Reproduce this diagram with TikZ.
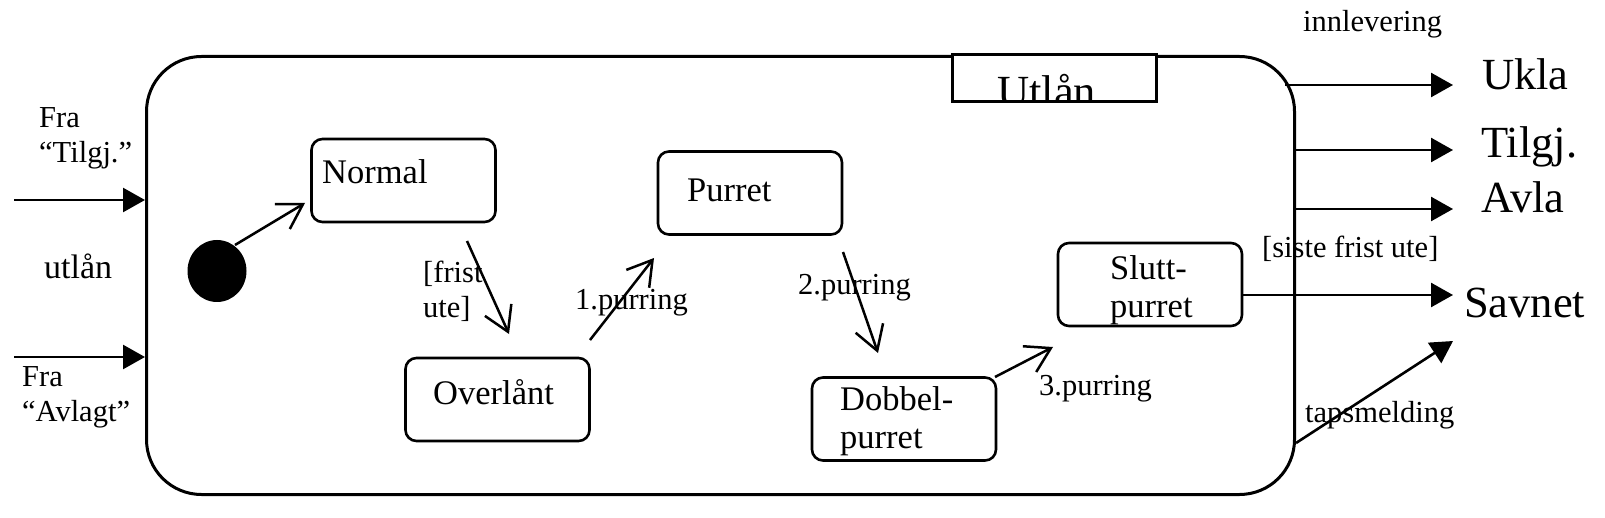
\documentclass[tikz,border=0pt]{standalone}
\usepackage{fontspec}
\setmainfont{Liberation Serif}
\usetikzlibrary{arrows.meta,shapes.geometric}
\tikzset{
  stbox/.style={draw, line width=2.6pt, rounded corners=11pt, minimum width=184pt, minimum height=83pt, inner sep=0pt},
  lbl/.style={anchor=base west, inner sep=0pt, font=\fontsize{30.5pt}{36pt}\selectfont},
  boxtxt/.style={anchor=base west, inner sep=0pt, font=\fontsize{34.5pt}{40pt}\selectfont},
  bigtxt/.style={anchor=base west, inner sep=0pt, font=\fontsize{44.5pt}{50pt}\selectfont},
  openarr/.style={line width=2.5pt, -{Straight Barb[length=24pt,width=29pt,line width=2.5pt]}},
  fillarr/.style={line width=2.6pt, -{Triangle[length=22pt,width=24pt]}}
}
\begin{document}
\begin{tikzpicture}[x=1pt,y=-1pt]
\useasboundingbox (0,0) rectangle (1605,518);
% composite state
\node[draw, line width=3pt, rounded corners=55pt, minimum width=1148pt, minimum height=438pt, inner sep=0pt] (utlaan) at (720.5,275.5) {};
\node[draw, fill=white, line width=3pt, minimum width=204pt, minimum height=47pt, inner sep=0pt] (tab) at (1054.5,78) {};
\begin{scope}
  \clip (951,53) rectangle (1158,101.5);
  \node[bigtxt] (utlantxt) at (997,107) {Utlån};
\end{scope}
% inner states
\node[stbox] (normal) at (403.5,180.5) {};
\node[stbox] (purret) at (750,193) {};
\node[stbox] (overl) at (497.5,399.5) {};
\node[stbox] (dobbel) at (904,419) {};
\node[stbox] (slutt) at (1150,284.5) {};
\node[boxtxt] (tnormal) at (322,184) {Normal};
\node[boxtxt] (tpurret) at (687,202) {Purret};
\node[boxtxt] (toverl) at (433,404) {Overlånt};
\node[boxtxt] (tdob1) at (840,410) {Dobbel-};
\node[boxtxt] (tdob2) at (840,448) {purret};
\node[boxtxt] (tslu1) at (1110,280) {Slutt-};
\node[boxtxt] (tslu2) at (1110,318) {purret};
% initial state
\node[ellipse, fill=black, minimum width=59pt, minimum height=62pt, inner sep=0pt] (init) at (217,271) {};
% inner transitions
\coordinate (i0) at (235,245); \coordinate (i1) at (305,203);
\coordinate (a0) at (467,241); \coordinate (a1) at (509,334);
\coordinate (b0) at (590,340); \coordinate (b1) at (654,258);
\coordinate (c0) at (843,252); \coordinate (c1) at (878,353);
\coordinate (d0) at (995,377); \coordinate (d1) at (1053,347);
\draw[openarr] (i0) -- (i1);
\draw[openarr] (a0) -- (a1);
\draw[openarr] (b0) -- (b1);
\draw[openarr] (c0) -- (c1);
\draw[openarr] (d0) -- (d1);
\node[lbl] (lfrist1) at (423,283) {[frist};
\node[lbl] (lfrist2) at (423,318) {ute]};
\node[lbl] (lp1) at (575,309) {1.purring};
\node[lbl] (lp2) at (798,295) {2.purring};
\node[lbl] (lp3) at (1039,395) {3.purring};
% incoming
\coordinate (in1) at (14,200); \coordinate (in2) at (14,357);
\draw[fillarr] (in1) -- (in1 -| utlaan.west);
\draw[fillarr] (in2) -- (in2 -| utlaan.west);
\node[lbl] (fra1) at (39,128) {Fra};
\node[lbl] (fra1b) at (39,163) {“Tilgj.”};
\node[lbl, font=\fontsize{34pt}{40pt}\selectfont] (utl) at (44,279) {utlån};
\node[lbl] (fra2) at (22,386) {Fra};
\node[lbl] (fra2b) at (22,421) {“Avlagt”};
% outgoing
\coordinate (o1s) at (1285,85);  \coordinate (o1e) at (1453,85);
\coordinate (o2s) at (1296,150); \coordinate (o2e) at (1453,150);
\coordinate (o3s) at (1296,209); \coordinate (o3e) at (1453,209);
\coordinate (o4s) at (slutt.east |- 0,295); \coordinate (o4e) at (1453,295);
\coordinate (o5s) at (1296,443); \coordinate (o5e) at (1453,341);
\draw[fillarr] (o1s) -- (o1e);
\draw[fillarr] (o2s) -- (o2e);
\draw[fillarr] (o3s) -- (o3e);
\draw[fillarr] (o4s) -- (o4e);
\draw[fillarr] (o5s) -- (o5e);
\node[lbl] (linn) at (1303,32) {innlevering};
\node[lbl] (lsiste) at (1262,258) {[siste frist ute]};
\node[lbl] (ltaps) at (1305,422) {tapsmelding};
\node[bigtxt] (ukla) at (1482,90) {Ukla};
\node[bigtxt] (tilgj) at (1481,158) {Tilgj.};
\node[bigtxt] (avla) at (1481,213) {Avla};
\node[bigtxt] (savnet) at (1464,317) {Savnet};
\end{tikzpicture}
\end{document}
